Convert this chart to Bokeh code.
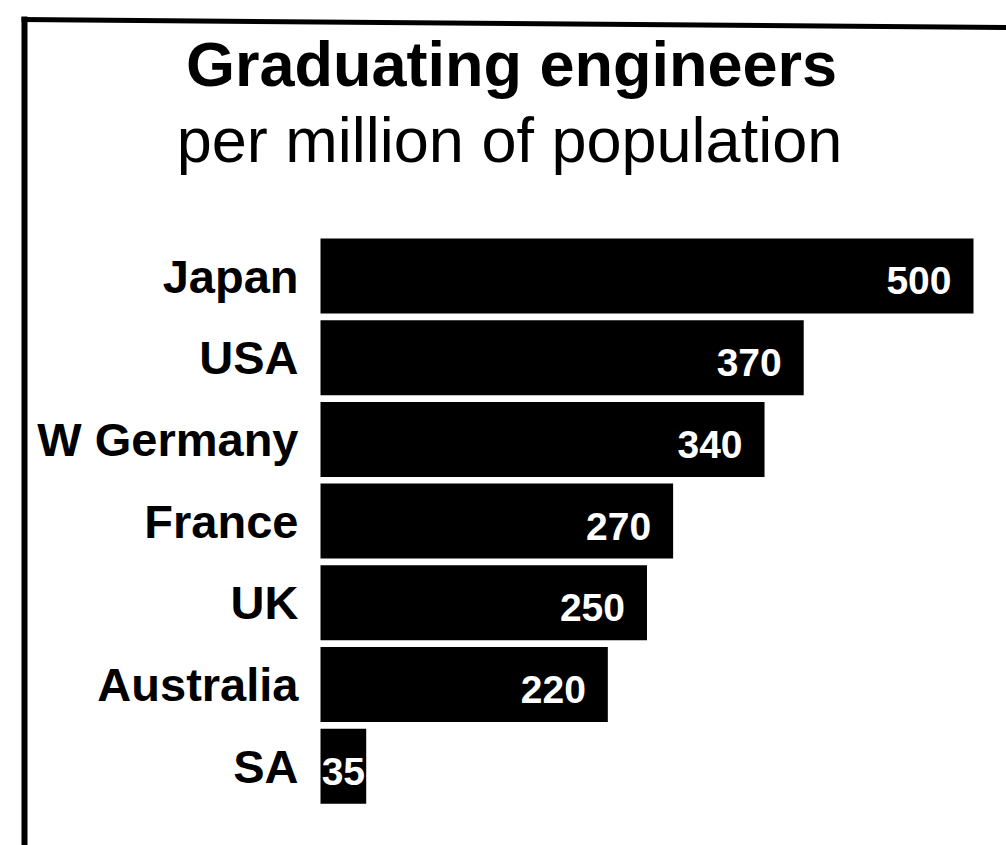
from bokeh.plotting import figure
from bokeh.models import Range1d, ColumnDataSource
from bokeh.core.properties import value
from bokeh.embed import file_html
from bokeh.resources import INLINE

# Graduating engineers per million of population
countries = ["Japan", "USA", "W Germany", "France", "UK", "Australia", "SA"]
engineers = [500, 370, 340, 270, 250, 220, 35]
title_lines = ["Graduating engineers", "per million of population"]

# Layout in screen pixels
W, H = 1006, 845
BAR_LEFT_PX = 320          # where the value axis starts
PX_PER_UNIT = 1.306        # pixels per engineer
ROW0_PX = 275.5            # centre of the first bar
ROW_PITCH = 81.7           # distance between bar centres
BAR_HEIGHT_PX = 75
BASELINE_FIX = 0.36        # text drawn at "alphabetic" sits this many ems low

FONT = "'Liberation Sans', Arial, sans-serif"


def xd(px):
    return (px - BAR_LEFT_PX) / PX_PER_UNIT


def yd(py):
    return (py - ROW0_PX) / ROW_PITCH


p = figure(width=W, height=H, output_backend="svg", toolbar_location=None,
           x_range=Range1d(xd(0), xd(W)), y_range=Range1d(yd(H), yd(0)),
           min_border=0, outline_line_color=None, background_fill_color="white",
           border_fill_color="white")
p.axis.visible = False
p.grid.visible = False

rows = list(range(len(countries)))
src = ColumnDataSource(dict(country=countries, value=engineers, row=rows))

p.hbar(y="row", left=0, right="value", height=BAR_HEIGHT_PX / ROW_PITCH,
       source=src, fill_color="black", line_color=None)

# country names to the left of the bars
NAME_SIZE = 47
p.text(x=0, y="row", text="country", source=src, x_offset=-22,
       y_offset=17 - BASELINE_FIX * NAME_SIZE,
       text_align="right", text_baseline="alphabetic",
       text_font=value(FONT), text_font_style="bold",
       text_font_size=f"{NAME_SIZE}px", text_color="black")

# value labels inside the bars; short bars get the label centred
VAL_SIZE = 39
long_src = ColumnDataSource(dict(
    value=[v for v in engineers if v >= 60],
    row=[r for r, v in zip(rows, engineers) if v >= 60],
    label=[str(v) for v in engineers if v >= 60]))
short_src = ColumnDataSource(dict(
    mid=[v / 2 for v in engineers if v < 60],
    row=[r for r, v in zip(rows, engineers) if v < 60],
    label=[str(v) for v in engineers if v < 60]))
label_style = dict(text_font=value(FONT), text_font_style="bold",
                   text_font_size=f"{VAL_SIZE}px", text_color="white",
                   text_baseline="alphabetic",
                   y_offset=19 - BASELINE_FIX * VAL_SIZE)
p.text(x="value", y="row", text="label", source=long_src, x_offset=-22,
       text_align="right", **label_style)
p.text(x="mid", y="row", text="label", source=short_src,
       text_align="center", **label_style)

# two-line heading, centred on the page
cx = (xd(0) + xd(W)) / 2
T1, T2 = 63, 63
p.text(x=[cx], y=[yd(86 - BASELINE_FIX * T1)], text=[title_lines[0]],
       x_offset=8, text_align="center", text_baseline="alphabetic",
       text_font=value(FONT), text_font_style="bold",
       text_font_size=f"{T1}px", text_color="black")
p.text(x=[cx], y=[yd(162 - BASELINE_FIX * T2)], text=[title_lines[1]],
       x_offset=6, text_align="center", text_baseline="alphabetic",
       text_font=value(FONT), text_font_style="normal",
       text_font_size=f"{T2}px", text_color="black")

# box rule along the left and top edges
p.line(x=[xd(24), xd(24)], y=[yd(16), yd(H)], line_color="black", line_width=6)
p.line(x=[xd(21), xd(W)], y=[yd(19), yd(27)], line_color="black", line_width=5)

open("out.html", "w").write(file_html(p, INLINE))
